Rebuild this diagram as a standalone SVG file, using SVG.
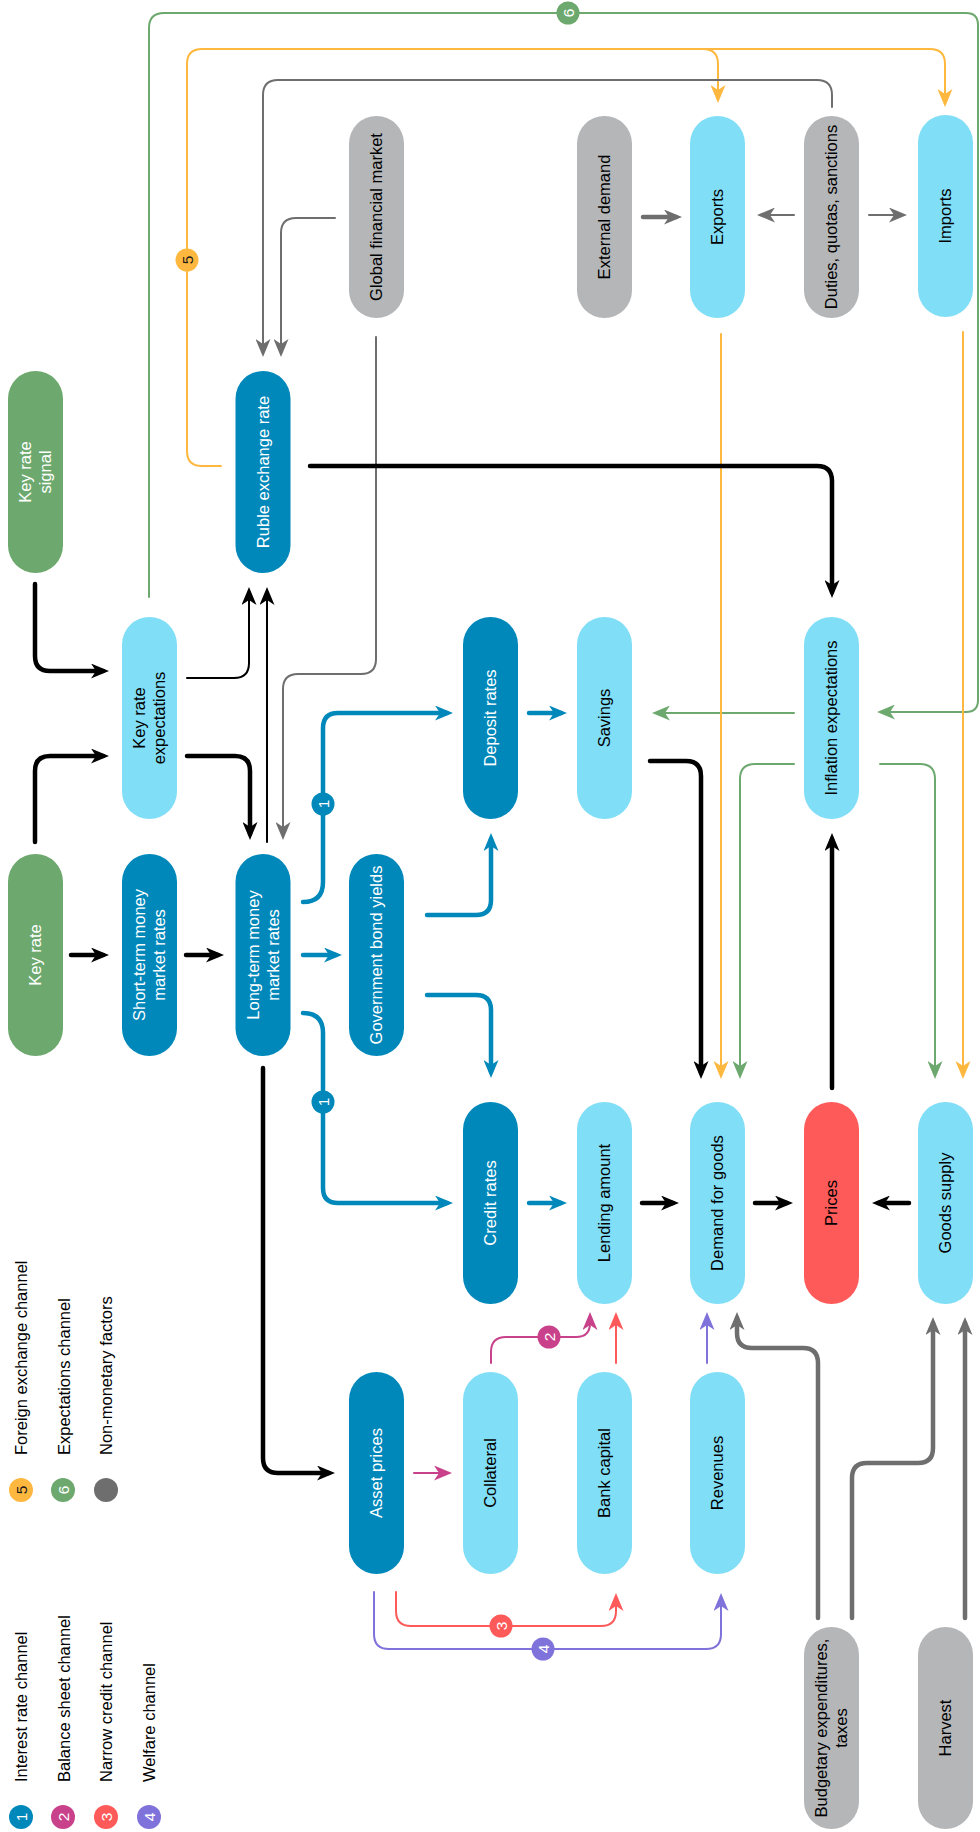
<svg xmlns="http://www.w3.org/2000/svg" width="980" height="1832" viewBox="0 0 980 1832">
<style>
text{font-family:"Liberation Sans",Arial,sans-serif;font-size:16.5px}
.n rect{stroke:none}
.db{fill:#0088BB}.lb{fill:#80DEF7}.gy{fill:#B5B6B8}.gr{fill:#6DA96E}.rd{fill:#FF5A5A}
.tw{fill:#FFFFFF}.tk{fill:#000000}
.c path{fill:none;stroke-linecap:round;stroke-linejoin:round}
.k4{stroke:#000;stroke-width:4.5}
.k2{stroke:#000;stroke-width:2}
.g2{stroke:#6E6E6E;stroke-width:2}
.g4{stroke:#6E6E6E;stroke-width:4.5}
.b4{stroke:#0088BB;stroke-width:4.5}
.o2{stroke:#FFB83F;stroke-width:2}
.e2{stroke:#6DA96E;stroke-width:2}
.p2{stroke:#C8418A;stroke-width:2}
.r2{stroke:#FF5A5A;stroke-width:2}
.v2{stroke:#7F73DB;stroke-width:2}
.bd text{font-size:15.5px;text-anchor:middle}
</style>
<defs>
<marker id="mk" viewBox="0 0 18 15" refX="12" refY="7.5" markerWidth="18" markerHeight="15" markerUnits="userSpaceOnUse" orient="auto"><path d="M0,0 L18,7.5 L0,15 L5,7.5 Z" fill="#000"/></marker>
<marker id="mg" viewBox="0 0 18 15" refX="12" refY="7.5" markerWidth="18" markerHeight="15" markerUnits="userSpaceOnUse" orient="auto"><path d="M0,0 L18,7.5 L0,15 L5,7.5 Z" fill="#6E6E6E"/></marker>
<marker id="mb" viewBox="0 0 18 15" refX="12" refY="7.5" markerWidth="18" markerHeight="15" markerUnits="userSpaceOnUse" orient="auto"><path d="M0,0 L18,7.5 L0,15 L5,7.5 Z" fill="#0088BB"/></marker>
<marker id="mo" viewBox="0 0 18 15" refX="12" refY="7.5" markerWidth="18" markerHeight="15" markerUnits="userSpaceOnUse" orient="auto"><path d="M0,0 L18,7.5 L0,15 L5,7.5 Z" fill="#FFB83F"/></marker>
<marker id="me" viewBox="0 0 18 15" refX="12" refY="7.5" markerWidth="18" markerHeight="15" markerUnits="userSpaceOnUse" orient="auto"><path d="M0,0 L18,7.5 L0,15 L5,7.5 Z" fill="#6DA96E"/></marker>
<marker id="mp" viewBox="0 0 18 15" refX="12" refY="7.5" markerWidth="18" markerHeight="15" markerUnits="userSpaceOnUse" orient="auto"><path d="M0,0 L18,7.5 L0,15 L5,7.5 Z" fill="#C8418A"/></marker>
<marker id="mr" viewBox="0 0 18 15" refX="12" refY="7.5" markerWidth="18" markerHeight="15" markerUnits="userSpaceOnUse" orient="auto"><path d="M0,0 L18,7.5 L0,15 L5,7.5 Z" fill="#FF5A5A"/></marker>
<marker id="mv" viewBox="0 0 18 15" refX="12" refY="7.5" markerWidth="18" markerHeight="15" markerUnits="userSpaceOnUse" orient="auto"><path d="M0,0 L18,7.5 L0,15 L5,7.5 Z" fill="#7F73DB"/></marker>
</defs>

<g class="n">
<g id="n-global"><rect class="gy" x="349" y="116" width="55" height="202" rx="27.5"/><text class="tk" transform="translate(376.5,217) rotate(-90)" text-anchor="middle" dy="0.35em">Global financial market</text></g>
<g id="n-extdemand"><rect class="gy" x="577" y="116" width="55" height="202" rx="27.5"/><text class="tk" transform="translate(604.5,217) rotate(-90)" text-anchor="middle" dy="0.35em">External demand</text></g>
<g id="n-exports"><rect class="lb" x="690" y="116" width="55" height="202" rx="27.5"/><text class="tk" transform="translate(717.5,217) rotate(-90)" text-anchor="middle" dy="0.35em">Exports</text></g>
<g id="n-duties"><rect class="gy" x="804" y="116" width="55" height="202" rx="27.5"/><text class="tk" transform="translate(831.5,217) rotate(-90)" text-anchor="middle" dy="0.35em">Duties, quotas, sanctions</text></g>
<g id="n-imports"><rect class="lb" x="918" y="115" width="55" height="202" rx="27.5"/><text class="tk" transform="translate(945.5,216) rotate(-90)" text-anchor="middle" dy="0.35em">Imports</text></g>

<g id="n-signal"><rect class="gr" x="8" y="371" width="55" height="202" rx="27.5"/><text class="tw" transform="translate(35.5,472) rotate(-90)" text-anchor="middle"><tspan x="0" y="-4.2">Key rate</tspan><tspan x="0" y="15.8">signal</tspan></text></g>
<g id="n-ruble"><rect class="db" x="235.5" y="371" width="55" height="202" rx="27.5"/><text class="tw" transform="translate(263,472) rotate(-90)" text-anchor="middle" dy="0.35em">Ruble exchange rate</text></g>

<g id="n-krexp"><rect class="lb" x="122" y="617" width="55" height="202" rx="27.5"/><text class="tk" transform="translate(149.5,718) rotate(-90)" text-anchor="middle"><tspan x="0" y="-4.2">Key rate</tspan><tspan x="0" y="15.8">expectations</tspan></text></g>
<g id="n-deposit"><rect class="db" x="463" y="617" width="55" height="202" rx="27.5"/><text class="tw" transform="translate(490.5,718) rotate(-90)" text-anchor="middle" dy="0.35em">Deposit rates</text></g>
<g id="n-savings"><rect class="lb" x="577" y="617" width="55" height="202" rx="27.5"/><text class="tk" transform="translate(604.5,718) rotate(-90)" text-anchor="middle" dy="0.35em">Savings</text></g>
<g id="n-inflexp"><rect class="lb" x="804" y="617" width="55" height="202" rx="27.5"/><text class="tk" transform="translate(831.5,718) rotate(-90)" text-anchor="middle" dy="0.35em">Inflation expectations</text></g>

<g id="n-keyrate"><rect class="gr" x="8" y="854" width="55" height="202" rx="27.5"/><text class="tw" transform="translate(35.5,955) rotate(-90)" text-anchor="middle" dy="0.35em">Key rate</text></g>
<g id="n-short"><rect class="db" x="122" y="854" width="55" height="202" rx="27.5"/><text class="tw" transform="translate(149.5,955) rotate(-90)" text-anchor="middle"><tspan x="0" y="-4.2">Short-term money</tspan><tspan x="0" y="15.8">market rates</tspan></text></g>
<g id="n-long"><rect class="db" x="235.5" y="854" width="55" height="202" rx="27.5"/><text class="tw" transform="translate(263,955) rotate(-90)" text-anchor="middle"><tspan x="0" y="-4.2">Long-term money</tspan><tspan x="0" y="15.8">market rates</tspan></text></g>
<g id="n-govbond"><rect class="db" x="349" y="854" width="55" height="202" rx="27.5"/><text class="tw" transform="translate(376.5,955) rotate(-90)" text-anchor="middle" dy="0.35em">Government bond yields</text></g>

<g id="n-credit"><rect class="db" x="463" y="1102" width="55" height="202" rx="27.5"/><text class="tw" transform="translate(490.5,1203) rotate(-90)" text-anchor="middle" dy="0.35em">Credit rates</text></g>
<g id="n-lending"><rect class="lb" x="577" y="1102" width="55" height="202" rx="27.5"/><text class="tk" transform="translate(604.5,1203) rotate(-90)" text-anchor="middle" dy="0.35em">Lending amount</text></g>
<g id="n-demand"><rect class="lb" x="690" y="1102" width="55" height="202" rx="27.5"/><text class="tk" transform="translate(717.5,1203) rotate(-90)" text-anchor="middle" dy="0.35em">Demand for goods</text></g>
<g id="n-prices"><rect class="rd" x="804" y="1102" width="55" height="202" rx="27.5"/><text class="tk" transform="translate(831.5,1203) rotate(-90)" text-anchor="middle" dy="0.35em">Prices</text></g>
<g id="n-supply"><rect class="lb" x="918" y="1102" width="55" height="202" rx="27.5"/><text class="tk" transform="translate(945.5,1203) rotate(-90)" text-anchor="middle" dy="0.35em">Goods supply</text></g>

<g id="n-asset"><rect class="db" x="349" y="1372" width="55" height="202" rx="27.5"/><text class="tw" transform="translate(376.5,1473) rotate(-90)" text-anchor="middle" dy="0.35em">Asset prices</text></g>
<g id="n-collateral"><rect class="lb" x="463" y="1372" width="55" height="202" rx="27.5"/><text class="tk" transform="translate(490.5,1473) rotate(-90)" text-anchor="middle" dy="0.35em">Collateral</text></g>
<g id="n-bankcap"><rect class="lb" x="577" y="1372" width="55" height="202" rx="27.5"/><text class="tk" transform="translate(604.5,1473) rotate(-90)" text-anchor="middle" dy="0.35em">Bank capital</text></g>
<g id="n-revenues"><rect class="lb" x="690" y="1372" width="55" height="202" rx="27.5"/><text class="tk" transform="translate(717.5,1473) rotate(-90)" text-anchor="middle" dy="0.35em">Revenues</text></g>

<g id="n-budget"><rect class="gy" x="804" y="1627" width="55" height="202" rx="27.5"/><text class="tk" transform="translate(831.5,1728) rotate(-90)" text-anchor="middle"><tspan x="0" y="-4.2">Budgetary expenditures,</tspan><tspan x="0" y="15.8">taxes</tspan></text></g>
<g id="n-harvest"><rect class="gy" x="918" y="1627" width="55" height="202" rx="27.5"/><text class="tk" transform="translate(945.5,1728) rotate(-90)" text-anchor="middle" dy="0.35em">Harvest</text></g>
</g>

<g id="connectors" class="c">
<path class="e2" d="M149,597 V28 Q149,13 164,13 H966 Q978,13 978,25 V700 Q978,712 966,712 H883" marker-end="url(#me)"/>
<path class="e2" d="M794,713 H658" marker-end="url(#me)"/>
<path class="e2" d="M794,764 H755 Q740,764 740,779 V1073" marker-end="url(#me)"/>
<path class="e2" d="M880,764 H920 Q935,764 935,779 V1073" marker-end="url(#me)"/>
<path class="o2" d="M221,466 H202 Q187,466 187,451 V64 Q187,49 202,49 H703 Q718,49 718,64 V97" marker-end="url(#mo)"/>
<path class="o2" d="M700,49 H930 Q945,49 945,64 V101" marker-end="url(#mo)"/>
<path class="o2" d="M721,334 V1073" marker-end="url(#mo)"/>
<path class="o2" d="M963,332 V1073" marker-end="url(#mo)"/>
<path class="g2" d="M832,107 V95 Q832,80 817,80 H278 Q263,80 263,95 V351" marker-end="url(#mg)"/>
<path class="g2" d="M335,218 H296 Q281,218 281,233 V351" marker-end="url(#mg)"/>
<path class="g2" d="M376,337 V659 Q376,674 361,674 H298 Q283,674 283,689 V834" marker-end="url(#mg)"/>
<path class="g4" d="M643,217 H676" marker-end="url(#mg)"/>
<path class="g2" d="M794,215 H763" marker-end="url(#mg)"/>
<path class="g2" d="M869,215 H901" marker-end="url(#mg)"/>
<path class="g4" d="M818,1618 V1363 Q818,1348 803,1348 H752 Q737,1348 737,1333 V1318" marker-end="url(#mg)"/>
<path class="g4" d="M852,1618 V1478 Q852,1463 867,1463 H918 Q933,1463 933,1448 V1323" marker-end="url(#mg)"/>
<path class="g4" d="M965,1618 V1323" marker-end="url(#mg)"/>
<path class="k4" d="M35,584 V656 Q35,671 50,671 H103" marker-end="url(#mk)"/>
<path class="k4" d="M35,842 V771 Q35,756 50,756 H103" marker-end="url(#mk)"/>
<path class="k2" d="M187,678 H234 Q249,678 249,663 V593" marker-end="url(#mk)"/>
<path class="k2" d="M267,842 V593" marker-end="url(#mk)"/>
<path class="k4" d="M187,756 H235 Q250,756 250,771 V834" marker-end="url(#mk)"/>
<path class="k4" d="M310,466 H817 Q832,466 832,481 V592" marker-end="url(#mk)"/>
<path class="k4" d="M71,955 H103" marker-end="url(#mk)"/>
<path class="k4" d="M186,955 H218" marker-end="url(#mk)"/>
<path class="k4" d="M263,1068 V1458 Q263,1473 278,1473 H329" marker-end="url(#mk)"/>
<path class="k4" d="M650,761 H686 Q701,761 701,776 V1073" marker-end="url(#mk)"/>
<path class="k4" d="M642,1203 H673" marker-end="url(#mk)"/>
<path class="k4" d="M755,1203 H787" marker-end="url(#mk)"/>
<path class="k4" d="M909,1203 H878" marker-end="url(#mk)"/>
<path class="k4" d="M832,1088 V839" marker-end="url(#mk)"/>
<path class="b4" d="M303,902 Q323,902 323,882 V728 Q323,713 338,713 H447" marker-end="url(#mb)"/>
<path class="b4" d="M303,955 H336" marker-end="url(#mb)"/>
<path class="b4" d="M303,1013 Q323,1013 323,1033 V1188 Q323,1203 338,1203 H447" marker-end="url(#mb)"/>
<path class="b4" d="M427,915 H476 Q491,915 491,900 V839" marker-end="url(#mb)"/>
<path class="b4" d="M427,995 H476 Q491,995 491,1010 V1072" marker-end="url(#mb)"/>
<path class="b4" d="M529,713 H561" marker-end="url(#mb)"/>
<path class="b4" d="M529,1203 H561" marker-end="url(#mb)"/>
<path class="p2" d="M414,1473 H446" marker-end="url(#mp)"/>
<path class="p2" d="M491,1363 V1352 Q491,1337 506,1337 H576 Q590,1337 590,1323 V1318" marker-end="url(#mp)"/>
<path class="r2" d="M616,1363 V1318" marker-end="url(#mr)"/>
<path class="v2" d="M707,1363 V1318" marker-end="url(#mv)"/>
<path class="r2" d="M396,1592 V1611 Q396,1626 411,1626 H601 Q616,1626 616,1611 V1599" marker-end="url(#mr)"/>
<path class="v2" d="M374,1592 V1634 Q374,1649 389,1649 H706 Q721,1649 721,1634 V1599" marker-end="url(#mv)"/>
<g class="bd">
<circle cx="568" cy="13" r="11.5" fill="#6DA96E"/><text fill="#fff" transform="translate(568,13) rotate(-90)" dy="0.36em">6</text>
<circle cx="187" cy="260" r="11.5" fill="#FFB83F"/><text fill="#1a1a1a" transform="translate(187,260) rotate(-90)" dy="0.36em">5</text>
<circle cx="323" cy="804" r="11.5" fill="#0088BB"/><text fill="#fff" transform="translate(323,804) rotate(-90)" dy="0.36em">1</text>
<circle cx="323" cy="1102" r="11.5" fill="#0088BB"/><text fill="#fff" transform="translate(323,1102) rotate(-90)" dy="0.36em">1</text>
<circle cx="549" cy="1337" r="11.5" fill="#C8418A"/><text fill="#fff" transform="translate(549,1337) rotate(-90)" dy="0.36em">2</text>
<circle cx="501" cy="1626" r="11.5" fill="#FF5A5A"/><text fill="#fff" transform="translate(501,1626) rotate(-90)" dy="0.36em">3</text>
<circle cx="543" cy="1649" r="11.5" fill="#7F73DB"/><text fill="#fff" transform="translate(543,1649) rotate(-90)" dy="0.36em">4</text>
</g>
</g>

<g id="legend">
<g class="bd">
<circle cx="21" cy="1817" r="12" fill="#0088BB"/><text fill="#fff" transform="translate(21,1817) rotate(-90)" dy="0.36em">1</text>
<circle cx="63" cy="1817" r="12" fill="#C8418A"/><text fill="#fff" transform="translate(63,1817) rotate(-90)" dy="0.36em">2</text>
<circle cx="106" cy="1817" r="12" fill="#FF5A5A"/><text fill="#fff" transform="translate(106,1817) rotate(-90)" dy="0.36em">3</text>
<circle cx="149" cy="1817" r="12" fill="#7F73DB"/><text fill="#fff" transform="translate(149,1817) rotate(-90)" dy="0.36em">4</text>
<circle cx="21" cy="1490" r="12" fill="#FFB83F"/><text fill="#1a1a1a" transform="translate(21,1490) rotate(-90)" dy="0.36em">5</text>
<circle cx="63" cy="1490" r="12" fill="#6DA96E"/><text fill="#fff" transform="translate(63,1490) rotate(-90)" dy="0.36em">6</text>
<circle cx="106" cy="1490" r="12" fill="#6E6E6E"/>
</g>
<text class="tk" transform="translate(27,1782) rotate(-90)">Interest rate channel</text>
<text class="tk" transform="translate(70,1782) rotate(-90)">Balance sheet channel</text>
<text class="tk" transform="translate(112,1782) rotate(-90)">Narrow credit channel</text>
<text class="tk" transform="translate(155,1782) rotate(-90)">Welfare channel</text>
<text class="tk" transform="translate(27,1455) rotate(-90)">Foreign exchange channel</text>
<text class="tk" transform="translate(70,1455) rotate(-90)">Expectations channel</text>
<text class="tk" transform="translate(112,1455) rotate(-90)">Non-monetary factors</text>
</g>
</svg>
